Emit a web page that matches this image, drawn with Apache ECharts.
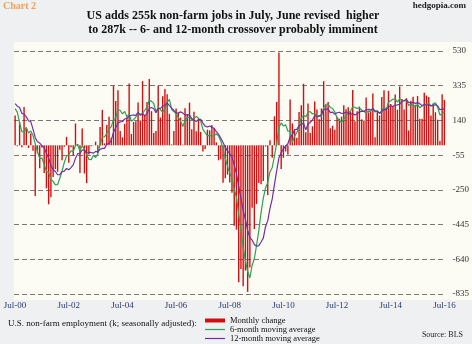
<!DOCTYPE html>
<html>
<head>
<meta charset="utf-8">
<script src="https://cdn.jsdelivr.net/npm/echarts@6/dist/echarts.min.js"></script>
<style>
html,body{margin:0;padding:0;background:#eff0f1;}
#chart{width:472px;height:344px;}
</style>
</head>
<body>
<div id="chart"></div>
<script>
// First month shown: July 2000
const startYear = 2000;
const startMonthIndex = 6;
const monthNames = ['Jan','Feb','Mar','Apr','May','Jun','Jul','Aug','Sep','Oct','Nov','Dec'];

const tickLabels = ['Jul-00','Jul-02','Jul-04','Jul-06','Jul-08','Jul-10','Jul-12','Jul-14','Jul-16'];
const yTickValues = [-835, -640, -445, -250, -55, 140, 335, 530];

// Monthly change in non-farm payrolls (k), Jul-2000 .. Jul-2016
const monthlyChange = [
  167, -5, 130, -10, 215, 100,
  -15, 67, -30, -285, -45, -128, -12, -156, -241, -331, -292, -178,
  -134, -148, -25, -84, -8, 47, -98, -11, -58, 123, 8, -155,
  95, -158, -212, -51, -5, -2, 21, -45, 103, 199, 11, 114,
  160, 42, 335, 249, 310, 81, 45, 121, 158, 347, 64, 131,
  135, 241, 140, 361, 171, 243, 373, 192, 69, 81, 335, 156,
  276, 316, 287, 177, 5, 80, 207, 184, 156, 4, 208, 171,
  240, 90, 189, 79, 143, 75, -34, -20, 88, 84, 114, 98,
  17, -84, -78, -210, -185, -165, -209, -266, -452, -473, -769, -695,
  -791, -703, -823, -686, -351, -470, -329, -212, -219, -200, -7, -279,
  28, -69, 163, 243, 522, -133, -70, -34, -52, 257, 123, 88,
  42, 188, 225, 346, 73, 235, 70, 107, 246, 202, 146, 207,
  361, 226, 243, 96, 110, 88, 160, 150, 161, 225, 203, 214,
  190, 311, 135, 192, 218, 146, 140, 269, 185, 189, 291, 45,
  187, 168, 272, 310, 213, 306, 232, 218, 286, 200, 331, 261,
  201, 265, 84, 251, 273, 228, 277, 150, 149, 295, 280, 271,
  168, 233, 186, 144, 24, 287, 255
];

// 6-month moving average (k)
const movingAvg6 = [
  206, 185, 127, 77, 75, 100,
  69, 81, 55, 9, -35, -73, -72, -109, -145, -152, -193, -202,
  -222, -221, -185, -144, -96, -59, -53, -30, -35, -1, 2, -32,
  0, -24, -50, -79, -81, -56, -68, -49, 4, 45, 48, 67,
  90, 105, 144, 152, 202, 196, 177, 190, 161, 177, 136, 144,
  159, 179, 176, 179, 197, 215, 255, 247, 235, 188, 216, 201,
  185, 206, 242, 258, 203, 190, 179, 157, 135, 106, 140, 155,
  161, 145, 150, 163, 152, 136, 90, 72, 55, 56, 51, 55,
  64, 53, 25, -24, -74, -118, -155, -186, -248, -292, -389, -477,
  -574, -647, -709, -745, -675, -637, -560, -479, -378, -297, -240, -208,
  -148, -124, -61, 13, 101, 126, 109, 115, 79, 82, 15, 52,
  71, 108, 154, 169, 160, 185, 190, 176, 180, 156, 168, 163,
  212, 231, 231, 213, 207, 187, 154, 141, 128, 149, 165, 186,
  191, 217, 213, 208, 210, 199, 190, 183, 192, 191, 203, 187,
  194, 178, 192, 212, 199, 243, 250, 259, 261, 243, 262, 255,
  250, 257, 224, 232, 223, 217, 230, 211, 221, 229, 230, 237,
  219, 233, 239, 214, 171, 174, 188
];

// 12-month moving average (k)
const movingAvg12 = [
  234, 220, 213, 180, 176, 160,
  138, 133, 91, 43, 20, 13, -2, -14, -45, -72, -114, -137,
  -147, -165, -165, -148, -145, -130, -137, -125, -110, -72, -47, -45,
  -26, -27, -43, -40, -40, -44, -34, -37, -23, -17, -17, 6,
  11, 28, 74, 99, 125, 132, 134, 148, 152, 164, 169, 170,
  168, 185, 169, 178, 166, 180, 207, 213, 206, 183, 206, 208,
  220, 226, 238, 223, 209, 196, 182, 181, 188, 182, 171, 173,
  170, 151, 143, 134, 146, 146, 125, 108, 103, 109, 102, 96,
  77, 62, 40, 16, -11, -31, -46, -66, -111, -158, -231, -297,
  -365, -416, -478, -518, -532, -557, -567, -563, -543, -521, -457, -423,
  -354, -301, -219, -142, -69, -41, -19, -5, 9, 47, 58, 89,
  90, 111, 117, 125, 88, 118, 130, 142, 167, 162, 164, 174,
  201, 204, 205, 184, 187, 175, 183, 186, 179, 181, 186, 186,
  172, 179, 170, 178, 187, 192, 190, 200, 202, 199, 207, 193,
  192, 180, 192, 202, 201, 215, 222, 218, 226, 227, 231, 249,
  250, 258, 242, 237, 242, 236, 240, 234, 223, 230, 226, 227,
  224, 222, 230, 221, 200, 205, 204
];

const categories = monthlyChange.map(function (_, i) {
  const k = startMonthIndex + i;
  const yy = (startYear + Math.floor(k / 12)) % 100;
  return monthNames[k % 12] + '-' + (yy < 10 ? '0' : '') + yy;
});

const serif = '"Liberation Serif", "DejaVu Serif", "Times New Roman", serif';
const lineIcon = 'path://M0,0H20V1.2H0Z';

const chart = echarts.init(document.getElementById('chart'), null, {renderer: 'canvas'});
chart.setOption({
  animation: false,
  backgroundColor: '#eff0f1',
  graphic: [{
    type: 'rect', z: -10, silent: true,
    shape: {x: 14, y: 42, width: 458, height: 258},
    style: {fill: '#fcfcf5'}
  }],
  title: [
    {
      text: 'US adds 255k non-farm jobs in July, June revised  higher\nto 287k -- 6- and 12-month crossover probably imminent',
      left: 233, top: 9, textAlign: 'center', padding: 0,
      textStyle: {fontFamily: serif, fontSize: 12, fontWeight: 'bold', color: '#111', lineHeight: 14}
    },
    {
      text: 'Chart 2', left: 3, top: 1, padding: 0,
      textStyle: {fontFamily: serif, fontSize: 10, fontWeight: 'bold', color: '#f0a05a'}
    },
    {
      text: 'hedgopia.com', right: 6, top: 1, padding: 0,
      textStyle: {fontFamily: serif, fontSize: 9, fontWeight: 'bold', color: '#222'}
    },
    {
      text: 'U.S. non-farm employment (k; seasonally adjusted):', left: 8, top: 319, padding: 0,
      textStyle: {fontFamily: serif, fontSize: 9, fontWeight: 'normal', color: '#111'}
    },
    {
      text: 'Source: BLS', right: 9, top: 331, padding: 0,
      textStyle: {fontFamily: serif, fontSize: 8, fontWeight: 'normal', color: '#222'}
    }
  ],
  legend: {
    orient: 'vertical', left: 205, top: 316, padding: 0, itemGap: 0,
    itemWidth: 20, itemHeight: 4,
    textStyle: {fontFamily: serif, fontSize: 8.5, color: '#111', lineHeight: 8},
    data: [
      {name: 'Monthly change', icon: 'rect'},
      {name: '6-month moving average', icon: lineIcon},
      {name: '12-month moving average', icon: lineIcon}
    ]
  },
  grid: {left: 14, right: 26, top: 51, height: 243, containLabel: false},
  xAxis: {
    type: 'category', data: categories, boundaryGap: true,
    axisLine: {show: false}, axisTick: {show: false},
    splitLine: {show: false},
    axisLabel: {
      interval: function (i, v) { return tickLabels.indexOf(v) >= 0; },
      fontFamily: serif, fontSize: 9, color: '#2a3a6e', margin: 7
    }
  },
  yAxis: {
    type: 'value', position: 'right', min: -835, max: 530,
    axisLine: {show: false},
    axisTick: {show: false, customValues: yTickValues},
    axisLabel: {customValues: yTickValues, fontFamily: serif, fontSize: 9, color: '#333', margin: 7},
    splitLine: {show: true, lineStyle: {color: '#7a7a7a', type: [5, 3], width: 1}}
  },
  series: [
    {
      name: 'Monthly change', type: 'bar', data: monthlyChange, barWidth: 1.4,
      itemStyle: {color: '#d01010'}
    },
    {
      name: '6-month moving average', type: 'line', data: movingAvg6, symbol: 'none',
      lineStyle: {color: '#2fa052', width: 1.2}, itemStyle: {color: '#2fa052'}
    },
    {
      name: '12-month moving average', type: 'line', data: movingAvg12, symbol: 'none',
      lineStyle: {color: '#7030a0', width: 1.2}, itemStyle: {color: '#7030a0'}
    }
  ]
});
</script>
</body>
</html>
